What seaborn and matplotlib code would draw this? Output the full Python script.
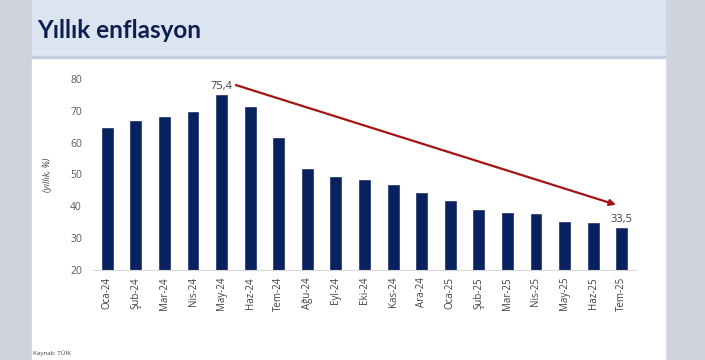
import matplotlib.pyplot as plt
import matplotlib.patches as mpatches
import pandas as pd
import seaborn as sns

months = ["Oca-24", "Şub-24", "Mar-24", "Nis-24", "May-24", "Haz-24", "Tem-24",
          "Ağu-24", "Eyl-24", "Eki-24", "Kas-24", "Ara-24", "Oca-25", "Şub-25",
          "Mar-25", "Nis-25", "May-25", "Haz-25", "Tem-25"]
inflation = [64.9, 67.1, 68.5, 69.8, 75.4, 71.6, 61.8, 52.0, 49.4, 48.6, 47.1,
             44.4, 42.1, 39.1, 38.1, 37.9, 35.4, 35.1, 33.5]
y_ticks = [20, 30, 40, 50, 60, 70, 80]

df = pd.DataFrame({"month": months, "value": inflation})

sns.set_style("white")
plt.rcParams["font.family"] = ["Open Sans", "DejaVu Sans"]

fig = plt.figure(figsize=(7.05, 3.6), dpi=100)
fig.patch.set_facecolor("#cfd4dc")

# slide background, header band
fig.patches.append(mpatches.Rectangle((32 / 705, 0), 633 / 705, 1 - 58 / 360,
                                      transform=fig.transFigure, color="white", zorder=-10))
fig.patches.append(mpatches.Rectangle((32 / 705, 1 - 56 / 360), 633 / 705, 56 / 360,
                                      transform=fig.transFigure, color="#dbe4f0", zorder=-10))
fig.patches.append(mpatches.Rectangle((32 / 705, 1 - 57.5 / 360), 633 / 705, 1.5 / 360,
                                      transform=fig.transFigure, color="#c3cddd", zorder=-10))

fig.text(37 / 705, 1 - 30 / 360, "Yıllık enflasyon", fontsize=17.5, fontweight="bold",
         color="#0d1f4f", va="center", ha="left", family=["Lato", "DejaVu Sans"])
fig.text(33 / 705, 1 - 353 / 360, "Kaynak: TÜİK", fontsize=4.5, color="#404040",
         va="center", ha="left")

ax = fig.add_axes([93 / 705, 1 - 270 / 360, 543 / 705, 191 / 360])
ax.set_facecolor("none")
sns.barplot(data=df, x="month", y="value", color="#0a2160", width=0.45,
            saturation=1, ax=ax)
ax.set_ylim(20, 80)
ax.set_xlim(-0.5, len(months) - 0.5)
ax.set_yticks(y_ticks)
ax.tick_params(axis="y", labelsize=7.5, labelcolor="#595959", length=0, pad=8)
ax.tick_params(axis="x", labelsize=7, labelcolor="#404040", length=0, pad=5)
ax.set_xticks(range(len(months)))
ax.set_xticklabels(months, rotation=90)
ax.set_xlabel("")
ax.set_ylabel("(yıllık, %)", fontsize=6.5, style="italic", color="#404040", labelpad=13)
for s in ["top", "right", "left"]:
    ax.spines[s].set_visible(False)
ax.spines["bottom"].set_color("#d9d9d9")
ax.spines["bottom"].set_linewidth(0.8)

peak = inflation.index(max(inflation))
last = len(inflation) - 1
ax.text(peak, inflation[peak] + 0.6, f"{inflation[peak]:.1f}".replace(".", ","),
        ha="center", va="bottom", fontsize=8, color="#404040")
ax.text(last, inflation[last] + 0.6, f"{inflation[last]:.1f}".replace(".", ","),
        ha="center", va="bottom", fontsize=8, color="#404040")

ax.annotate("", xy=(last - 0.2, inflation[last] + 7), xytext=(peak + 0.5, inflation[peak] + 2.7),
            arrowprops=dict(arrowstyle="-|>", color="#a31515", lw=1.6,
                            mutation_scale=9, shrinkA=0, shrinkB=0))

fig.savefig("out.png", dpi=100)
